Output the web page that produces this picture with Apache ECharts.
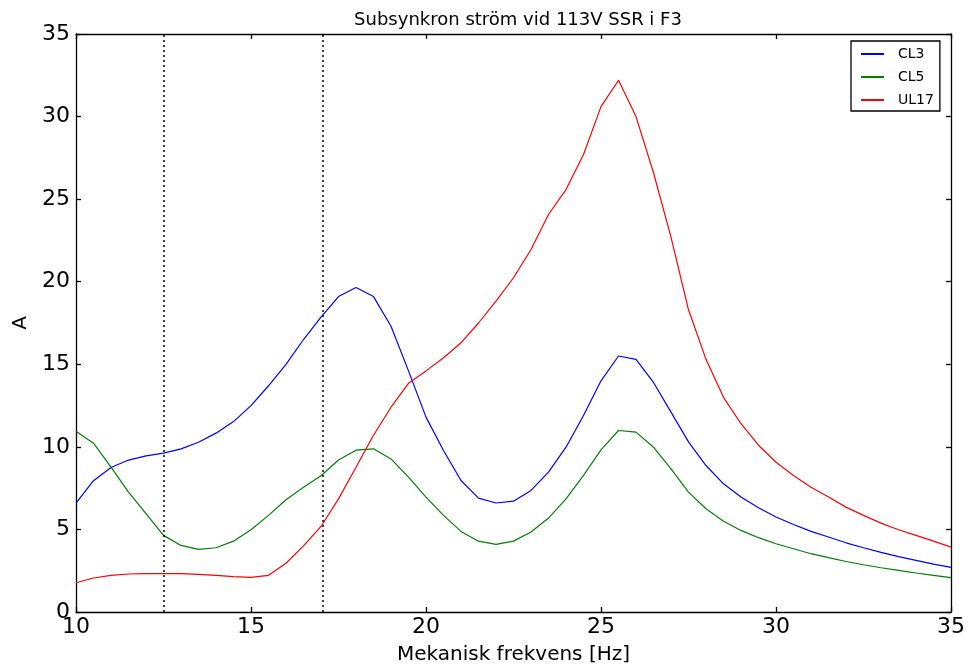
<!DOCTYPE html>
<html>
<head>
<meta charset="utf-8">
<script src="https://cdn.jsdelivr.net/npm/echarts@6/dist/echarts.min.js"></script>
<style>
html, body { margin: 0; padding: 0; background: #fff; }
#chart { width: 978px; height: 670px; }
</style>
</head>
<body>
<div id="chart"></div>
<script>
// mekanisk frekvens, Hz
const freqs = [10, 10.5, 11, 11.5, 12, 12.5, 13, 13.5, 14, 14.5, 15, 15.5, 16, 16.5, 17, 17.5, 18, 18.5, 19, 19.5,
    20, 20.5, 21, 21.5, 22, 22.5, 23, 23.5, 24, 24.5, 25, 25.5, 26, 26.5, 27, 27.5, 28, 28.5, 29, 29.5,
    30, 30.5, 31, 31.5, 32, 32.5, 33, 33.5, 34, 34.5, 35];

const cl3 = [6.6, 7.95, 8.75, 9.2, 9.45, 9.62, 9.88, 10.28, 10.83, 11.53, 12.5, 13.7, 15.0, 16.5, 17.85, 19.1, 19.65, 19.1, 17.3, 14.6,
    11.8, 9.78, 7.96, 6.9, 6.6, 6.71, 7.36, 8.47, 9.98, 11.9, 14.0, 15.5, 15.3, 13.9, 12.1, 10.3, 8.87, 7.76, 6.96, 6.31,
    5.75, 5.3, 4.88, 4.54, 4.19, 3.89, 3.61, 3.35, 3.13, 2.9, 2.7];

const cl5 = [10.95, 10.22, 8.77, 7.26, 5.95, 4.64, 4.03, 3.79, 3.89, 4.29, 4.98, 5.85, 6.8, 7.55, 8.25, 9.2, 9.8, 9.88, 9.27, 8.17,
    6.96, 5.85, 4.88, 4.29, 4.09, 4.29, 4.84, 5.69, 6.85, 8.27, 9.82, 10.99, 10.89, 9.98, 8.67, 7.26, 6.25, 5.5, 4.94, 4.5,
    4.13, 3.83, 3.53, 3.29, 3.06, 2.86, 2.68, 2.52, 2.36, 2.22, 2.08];

const ul17 = [1.77, 2.06, 2.22, 2.3, 2.32, 2.32, 2.32, 2.28, 2.22, 2.14, 2.1, 2.22, 2.95, 4.0, 5.18, 6.85, 8.77, 10.7, 12.4, 13.85,
    14.6, 15.4, 16.3, 17.5, 18.83, 20.24, 21.95, 24.07, 25.58, 27.7, 30.6, 32.2, 30.0, 26.6, 22.7, 18.3, 15.3, 13.0, 11.4, 10.1,
    9.07, 8.27, 7.56, 6.96, 6.35, 5.85, 5.38, 4.98, 4.64, 4.29, 3.93];

// vertikala streckade linjer
const markerFreqs = [12.5, 17.05];

const xTicks = [10, 15, 20, 25, 30, 35];
const yTicks = [0, 5, 10, 15, 20, 25, 30, 35];

const font = 'DejaVu Sans';

const chartDom = document.getElementById('chart');
const myChart = echarts.init(chartDom);

const pairs = (vals) => freqs.map((f, i) => [f, vals[i]]);

const frameAxis = {
    axisLine: { show: true, onZero: false, lineStyle: { color: '#000', width: 1.3 } },
    axisTick: { show: true, inside: true, length: 5, lineStyle: { color: '#000', width: 1.3 } },
    splitLine: { show: false }
};

const xBase = {
    type: 'value',
    min: xTicks[0],
    max: xTicks[xTicks.length - 1],
    interval: xTicks[1] - xTicks[0],
    ...frameAxis
};

const yBase = {
    type: 'value',
    min: yTicks[0],
    max: yTicks[yTicks.length - 1],
    interval: yTicks[1] - yTicks[0],
    ...frameAxis
};

const makeLine = (name, color, vals, extra) => Object.assign({
    name: name,
    type: 'line',
    data: pairs(vals),
    symbol: 'none',
    smooth: false,
    lineStyle: { color: color, width: 1.2 },
    itemStyle: { color: color },
    emphasis: { disabled: true },
    z: 3
}, extra || {});

const option = {
    backgroundColor: '#fff',
    animation: false,
    title: {
        text: 'Subsynkron ström vid 113V SSR i F3',
        left: 513,
        top: 6,
        textAlign: 'center',
        textStyle: { color: '#000', fontSize: 18, fontWeight: 'normal', fontFamily: font }
    },
    grid: { left: 76, right: 27, top: 34, bottom: 55 },
    legend: {
        orient: 'vertical',
        left: 851,
        top: 41,
        padding: [6, 6, 4, 10],
        icon: 'rect',
        itemWidth: 23,
        itemHeight: 2,
        itemGap: 9,
        borderColor: '#000',
        borderWidth: 1.3,
        textStyle: { color: '#000', fontSize: 14, fontFamily: font, lineHeight: 14, padding: [0, 0, 0, 9] },
        data: ['CL3', 'CL5', 'UL17']
    },
    xAxis: [
        {
            ...xBase,
            position: 'bottom',
            name: 'Mekanisk frekvens [Hz]',
            nameLocation: 'middle',
            nameGap: 33,
            nameTextStyle: { color: '#000', fontSize: 20, fontFamily: font },
            axisLabel: { color: '#000', fontSize: 22, fontFamily: font, margin: 4 }
        },
        { ...xBase, position: 'top', axisLabel: { show: false } }
    ],
    yAxis: [
        {
            ...yBase,
            position: 'left',
            name: 'A',
            nameLocation: 'middle',
            nameGap: 38,
            nameRotate: 90,
            nameTextStyle: { color: '#000', fontSize: 20, fontFamily: font },
            axisLabel: { color: '#000', fontSize: 22, fontFamily: font, margin: 6 }
        },
        { ...yBase, position: 'right', axisLabel: { show: false } }
    ],
    series: [
        makeLine('CL3', '#0000ff', cl3, {
            markLine: {
                silent: true,
                symbol: 'none',
                label: { show: false },
                lineStyle: { color: '#000', width: 1.5, type: [2, 3] },
                data: markerFreqs.map(f => ({ xAxis: f }))
            }
        }),
        makeLine('CL5', '#008000', cl5),
        makeLine('UL17', '#ff0000', ul17)
    ]
};

myChart.setOption(option);
window.addEventListener('resize', () => myChart.resize());
</script>
</body>
</html>
